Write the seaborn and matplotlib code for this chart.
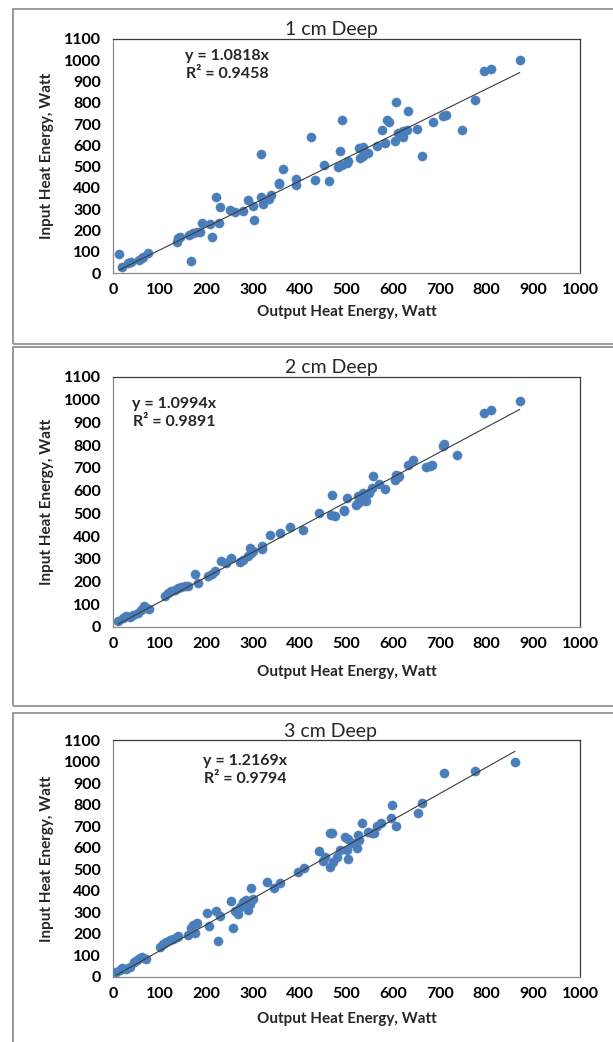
import matplotlib
matplotlib.use("Agg")
import matplotlib.pyplot as plt
from matplotlib.patches import Rectangle
import numpy as np
import pandas as pd
import seaborn as sns

# Measured output vs input heat energy (W) at three depths
out_1cm = [13, 20, 33, 38, 55, 62, 65, 75, 136, 140, 143, 163, 172, 179, 186, 190, 168,
           207, 213, 220, 227, 229, 250, 261, 278, 290, 300, 302, 317, 317, 322, 335, 339,
           355, 356, 364, 392, 392, 423, 433, 452, 462, 481, 486, 491, 491, 502, 504,
           529, 536, 546, 527, 536, 566, 575, 582, 586, 591, 604, 607, 611, 621, 621, 629,
           632, 650, 661, 686, 707, 713, 747, 776, 795, 809, 871]
in_1cm = [88, 28, 49, 52, 63, 71, 76, 95, 147, 163, 167, 178, 186, 194, 194, 237, 55,
          231, 167, 355, 237, 310, 297, 289, 292, 341, 313, 250, 561, 357, 325, 348, 365,
          423, 419, 491, 444, 412, 641, 439, 510, 433, 499, 573, 720, 510, 518, 526,
          542, 550, 562, 589, 594, 597, 673, 613, 720, 708, 619, 802, 660, 668, 637, 671,
          763, 679, 550, 711, 739, 742, 670, 812, 949, 959, 1002]

out_2cm = [11, 21, 27, 36, 43, 54, 61, 66, 71, 77, 111, 118, 125, 132, 139, 146, 154, 161,
           176, 182, 204, 211, 218, 232, 241, 252, 271, 279, 289, 293, 296, 300, 318, 319,
           337, 357, 380, 406, 441, 466, 469, 475, 525,
           494, 494, 501, 521, 525, 532, 541, 536, 549, 554, 557, 570, 582, 604, 607, 611,
           613, 632, 643, 670, 679, 684, 706, 709, 736, 795, 809, 871]
in_2cm = [25, 40, 47, 44, 51, 62, 76, 91, 84, 81, 135, 150, 157, 164, 172, 176, 179, 182,
          235, 194, 226, 235, 245, 292, 282, 303, 285, 296, 311, 348, 326, 333, 355, 343,
          406, 413, 440, 428, 501, 494, 582, 487, 575,
          516, 509, 567, 538, 545, 553, 553, 589, 589, 611, 663, 630, 607, 648, 670, 660,
          666, 714, 733, 704, 707, 711, 795, 806, 755, 941, 953, 994]

out_3cm = [7, 14, 20, 27, 36, 46, 51, 57, 63, 71, 100, 107, 114, 121, 129, 136, 139,
           161, 166, 171, 175, 179, 201, 206, 220, 225, 230, 252, 257,
           261, 268, 271, 279, 284, 289, 293, 296, 299, 330, 344, 357, 396, 409,
           441, 449, 455, 464, 468, 464, 471, 479, 486, 496, 500, 504, 525, 523,
           504, 511, 526, 533, 545, 554, 559, 566, 573, 596, 598, 606, 654, 662,
           709, 775, 861]
in_3cm = [23, 31, 43, 39, 47, 70, 78, 90, 93, 85, 140, 152, 163, 174, 178, 186, 189,
          194, 229, 243, 202, 251, 295, 237, 305, 167, 282, 352, 229,
          307, 291, 326, 349, 357, 310, 341, 411, 364, 439, 411, 434, 488, 507,
          584, 538, 555, 667, 667, 512, 535, 558, 589, 648, 589, 550, 659, 597,
          639, 623, 636, 716, 674, 667, 670, 701, 716, 736, 798, 702, 760, 809,
          946, 957, 998]

titles = ["1 cm Deep", "2 cm Deep", "3 cm Deep"]
slopes = [1.0818, 1.0994, 1.2169]
r_squared = [0.9458, 0.9891, 0.9794]
x_ticks = list(range(0, 1001, 100))
y_ticks = list(range(0, 1101, 100))

sns.set_theme(style="white")
plt.rcParams["font.family"] = ["Lato", "DejaVu Sans"]

W, H = 613, 1042
fig = plt.figure(figsize=(W / 100, H / 100), dpi=100)

# panel frames (top, bottom in pixels) and plot areas (top, bottom in pixels)
frames = [(9, 344), (347, 706), (713, 1050)]
areas = [(39, 273), (377, 627), (740, 977)]
ax_left, ax_right = 113, 580
eq_pos = [(0.244, 0.889), (0.131, 0.856), (0.283, 0.873)]
xlabel_off = [39, 45, 42]

datasets = [(out_1cm, in_1cm), (out_2cm, in_2cm), (out_3cm, in_3cm)]

blue = "#4A7EBB"
for i, ((xs, ys), title, m, r2) in enumerate(zip(datasets, titles, slopes, r_squared)):
    ft, fb = frames[i]
    fig.patches.append(Rectangle((13 / W, 1 - fb / H), 1.1, (fb - ft) / H,
                                 transform=fig.transFigure, fill=False,
                                 edgecolor="#9a9a9a", linewidth=1.4, zorder=0))
    at, ab = areas[i]
    ax = fig.add_axes([ax_left / W, 1 - ab / H, (ax_right - ax_left) / W, (ab - at) / H])
    df = pd.DataFrame({"Output": xs, "Input": ys})
    sns.scatterplot(data=df, x="Output", y="Input", ax=ax, s=44, color=blue,
                    edgecolor=blue, linewidth=0.3, zorder=3)
    xf = np.array([df["Output"].min(), df["Output"].max()])
    ax.plot(xf, m * xf, color="#3a3a3a", linewidth=0.8, zorder=4)

    ax.set_xlim(0, 1000)
    ax.set_ylim(0, 1100)
    ax.set_xticks(x_ticks)
    ax.set_yticks(y_ticks)
    ax.tick_params(axis="both", direction="out", length=3.5, width=0.8,
                   color="#8a8a8a", labelsize=11.5, labelcolor="black")
    ax.tick_params(axis="y", pad=5)
    ax.tick_params(axis="x", pad=4)
    for lab in ax.get_xticklabels() + ax.get_yticklabels():
        lab.set_fontweight("bold")
    for side in ("left", "bottom"):
        ax.spines[side].set_color("#8a8a8a")
        ax.spines[side].set_linewidth(0.9)
    for side in ("top", "right"):
        ax.spines[side].set_color("#3a3a3a")
        ax.spines[side].set_linewidth(0.9)

    h = ab - at
    w = ax_right - ax_left
    ax.set_xlabel("Output Heat Energy, Watt", fontsize=11, fontweight="bold")
    ax.xaxis.set_label_coords(0.5, -xlabel_off[i] / h)
    ax.xaxis.label.set_va("center")
    ax.set_ylabel("Input Heat Energy, Watt", fontsize=11, fontweight="bold")
    ax.yaxis.set_label_coords((47 - ax_left) / w, 0.5)
    ax.yaxis.label.set_va("center")

    ax.text((331 - ax_left) / w, 1 + 9 / h, title, transform=ax.transAxes,
            ha="center", va="center", fontsize=14)
    ax.text(eq_pos[i][0], eq_pos[i][1], f"y = {m:.4f}x\nR\u00b2 = {r2:.4f}",
            transform=ax.transAxes, ha="center", va="center", fontsize=11.5,
            fontweight="bold", linespacing=1.4, multialignment="center")

fig.savefig("out.png", dpi=100, facecolor="white")
